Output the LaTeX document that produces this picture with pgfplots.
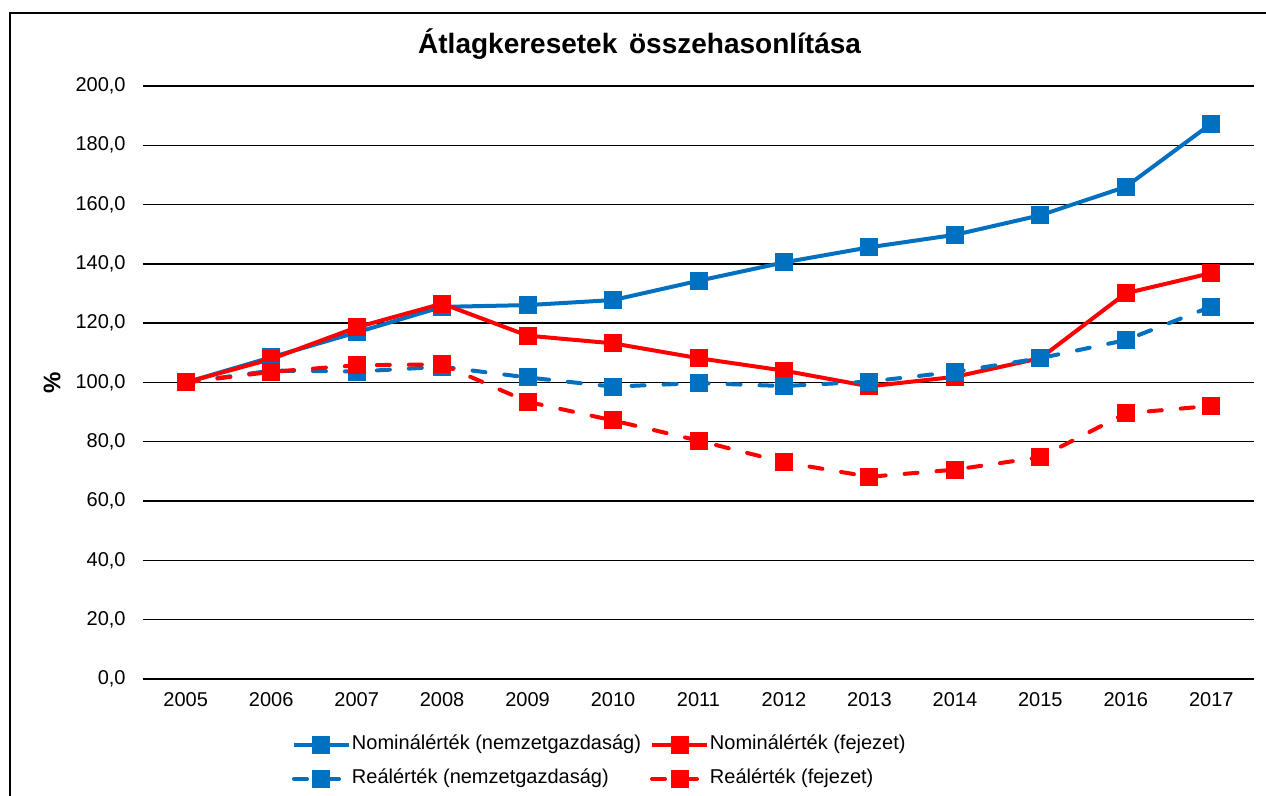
\documentclass[border=0pt]{standalone}
\usepackage{fontspec}
\setmainfont{Liberation Sans}
\usepackage{pgfplots}
\pgfplotsset{compat=1.18}
\definecolor{cblue}{HTML}{0070C0}
\definecolor{cred}{HTML}{FF0000}
\begin{document}
\begin{tikzpicture}
\path[use as bounding box] (0pt,0pt) rectangle (633pt,398pt);
\clip (0pt,0pt) rectangle (633pt,398pt);
\draw[line width=0.8pt, black] (5pt,-10pt) rectangle (650pt,391.5pt);
\begin{axis}[
  at={(71.5pt,58.5pt)}, anchor=south west,
  width=555.5pt, height=296.5pt, scale only axis,
  xmin=-0.5, xmax=12.5, ymin=0, ymax=200,
  xtick={0,...,12},
  xticklabels={2005,2006,2007,2008,2009,2010,2011,2012,2013,2014,2015,2016,2017},
  ytick={0,20,...,200},
  yticklabel={\pgfmathprintnumber[fixed,fixed zerofill,precision=1,use comma,assume math mode=true]{\tick}},
  ymajorgrids, grid style={black, line width=0.7pt},
  axis line style={draw=none}, tick style={draw=none},
  tick label style={font=\fontsize{10}{12}\selectfont},
  yticklabel style={anchor=east, inner sep=0pt, xshift=-8.5pt},
  xticklabel style={anchor=north, inner sep=0pt, yshift=-6.5pt},
  every axis title shift=0pt,
  title={Átlagkeresetek\hspace{2pt} összehasonlítása},
  title style={at={(axis description cs:0.447,1.0540)}, anchor=base, yshift=0pt, inner sep=0pt, font=\bfseries\fontsize{14}{16}\selectfont},
  ylabel={\%},
  ylabel style={at={(axis description cs:-0.0819,0.5)}, anchor=center, font=\bfseries\fontsize{12}{14}\selectfont},
  legend columns=2,
  legend cell align=left,
  legend style={draw=none, fill=none, at={(axis description cs:0.1341,-0.0927)}, anchor=north west,
    inner sep=0pt, outer sep=0pt, row sep=6pt, font=\fontsize{10}{12}\selectfont,
    /tikz/every even column/.append style={column sep=4pt},
    nodes={inner sep=0.5pt, text height=7.5pt, text depth=2.5pt, anchor=west}},
  legend image code/.code={\draw[mark repeat=2,mark phase=2,#1] plot coordinates {(0pt,0pt)(13.75pt,0pt)(27.5pt,0pt)};},
  every axis plot/.append style={line width=2pt, mark=square*, mark size=3.5pt},
]
\addplot[cblue, mark options={solid, fill=cblue}] coordinates {
(0,100) (1,108.5) (2,116.9) (3,125.5) (4,126.1) (5,127.8) (6,134.3) (7,140.5) (8,145.6) (9,149.8) (10,156.4) (11,166.0) (12,187.3)};
\addlegendentry{Nominálérték (nemzetgazdaság)}
\addplot[cred, mark options={solid, fill=cred}] coordinates {
(0,100) (1,107.9) (2,118.6) (3,126.6) (4,115.8) (5,113.2) (6,108.2) (7,104.0) (8,98.7) (9,101.9) (10,108.2) (11,130.1) (12,136.9)};
\addlegendentry{Nominálérték (fejezet)}
\addplot[cblue, dash pattern=on 6.5pt off 9.5pt, line cap=round, mark options={solid, fill=cblue}] coordinates {
(0,100) (1,104.0) (2,103.7) (3,105.3) (4,101.7) (5,98.6) (6,99.8) (7,98.8) (8,100.3) (9,103.6) (10,108.2) (11,114.3) (12,125.6)};
\addlegendentry{Reálérték (nemzetgazdaság)}
\addplot[cred, dash pattern=on 6.5pt off 9.5pt, line cap=round, mark options={solid, fill=cred}] coordinates {
(0,100) (1,103.6) (2,105.8) (3,106.1) (4,93.5) (5,87.2) (6,80.4) (7,73.1) (8,68.2) (9,70.6) (10,74.8) (11,89.6) (12,92.1)};
\addlegendentry{Reálérték (fejezet)}
\end{axis}
\end{tikzpicture}
\end{document}
